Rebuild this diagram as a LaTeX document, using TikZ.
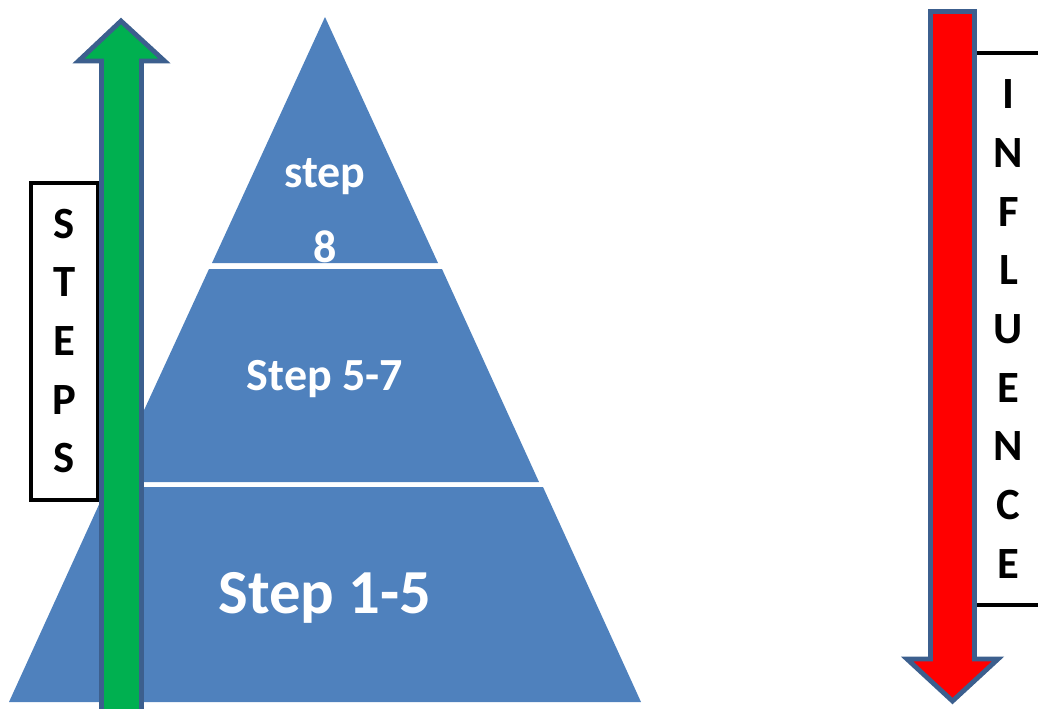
\documentclass[tikz,border=0pt]{standalone}
\usepackage{fontspec}
\setmainfont{Carlito}
\definecolor{pyr}{HTML}{4F81BD}
\definecolor{arrgreen}{HTML}{00B050}
\definecolor{arrred}{HTML}{FF0000}
\definecolor{arredge}{HTML}{3C5F8E}
\begin{document}
\begin{tikzpicture}[x=0.75pt,y=-0.75pt,
  pyrtext/.style={text=white,font=\bfseries\fontsize{34.5}{40}\selectfont,anchor=base,inner sep=0},
  bigtext/.style={text=white,font=\bfseries\fontsize{47}{55}\selectfont,anchor=base,inner sep=0},
  letterbox/.style={draw=black,line width=3pt,fill=white,inner sep=0,align=center,
    font=\bfseries\fontsize{33.5}{44}\selectfont},
  arrowshape/.style={draw=arredge,line width=3.6pt,miter limit=10,line join=miter}
]
\path[use as bounding box] (0,0) rectangle (1038,708);
\clip (0,0) rectangle (1038,708);
% pyramid: three stacked pieces with white gaps
\fill[pyr] (325,17) -- (438,263) -- (212,263) -- cycle;
\fill[pyr] (209,269) -- (442,269) -- (539,482) -- (111,482) -- cycle;
\fill[pyr] (107,487) -- (543,487) -- (641,702) -- (9,702) -- cycle;
\node[pyrtext] (t8a) at (325,187) {step};
\node[pyrtext] (t8b) at (325,262) {8};
\node[pyrtext] (t57) at (325,390) {Step 5-7};
\node[bigtext] (t15) at (325,613) {Step 1-5};
% STEPS box
\node[letterbox,minimum width=67*0.75pt,minimum height=317*0.75pt] (steps) at (64.5,341)
  {S\\T\\E\\P\\S};
% green arrow (up)
\filldraw[arrowshape,fill=arrgreen] (101.5,720) -- (101.5,61) -- (78.5,61) -- (121,21)
  -- (164.5,61) -- (141.5,61) -- (141.5,720) -- cycle;
% INFLUENCE box
\node[letterbox,minimum width=67*0.75pt,minimum height=552*0.75pt] (influence) at (1008.5,329)
  {I\\N\\F\\L\\U\\E\\N\\C\\E};
% red arrow (down)
\filldraw[arrowshape,fill=arrred] (930.5,11.5) -- (974.5,11.5) -- (974.5,659) -- (998,659)
  -- (952.5,701) -- (907,659) -- (930.5,659) -- cycle;
\end{tikzpicture}
\end{document}
